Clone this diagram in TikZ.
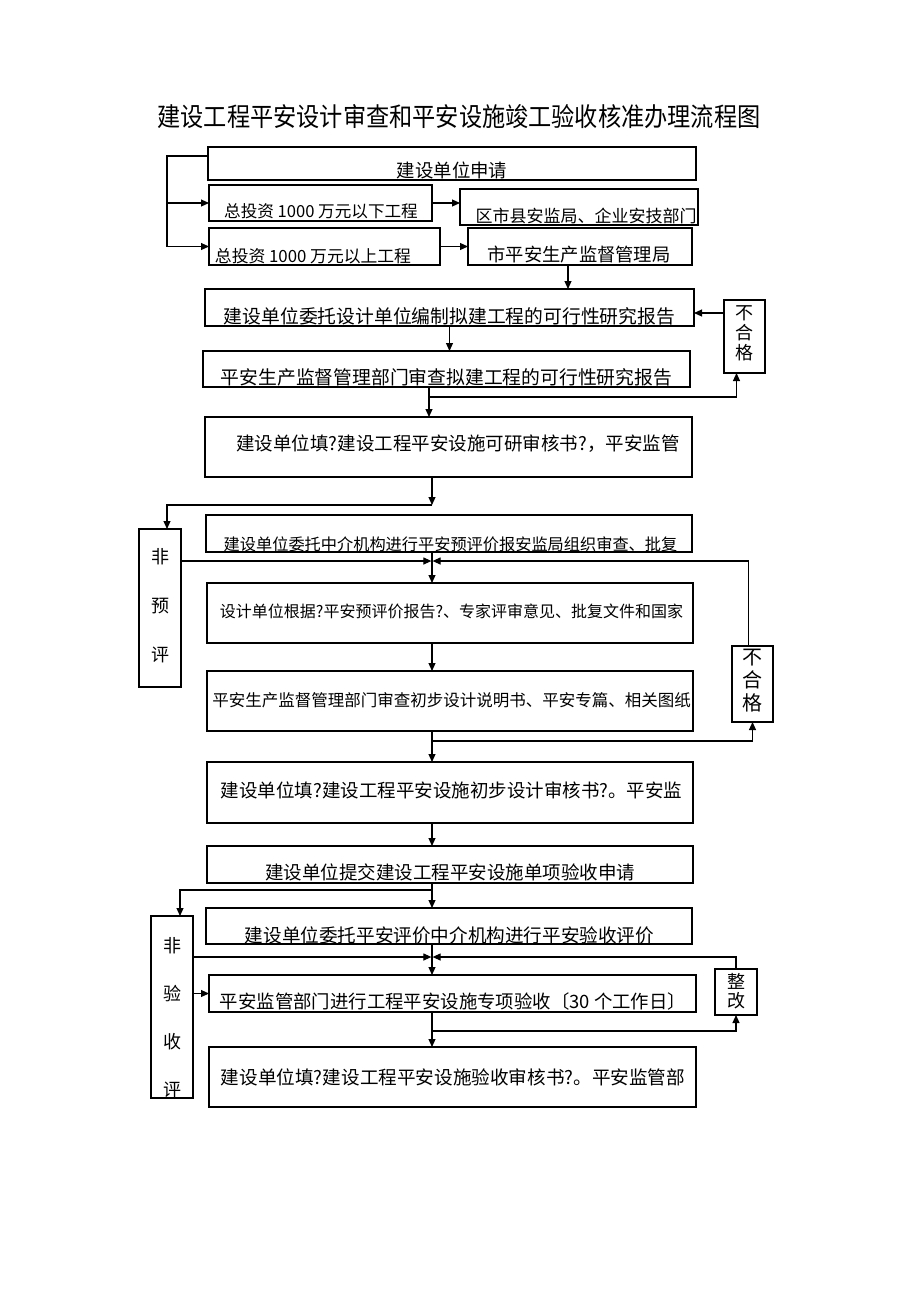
\documentclass[tikz,border=0pt]{standalone}
\usepackage{fontspec}
\setmainfont{Noto Sans CJK SC}
\usetikzlibrary{arrows.meta}
\newcommand\mkbox[5]{\node[box, minimum width={(#4)-(#2)}, minimum height={(#5)-(#3)}] (#1) at ({((#2)+(#4))/2},{((#3)+(#5))/2}) {};}
\newcommand\fs[1]{\fontsize{#1}{#1}\selectfont}
\begin{document}
\begin{tikzpicture}[x=1pt,y=-1pt,
  box/.style={draw, line width=1.1pt, inner sep=0pt, outer sep=0pt},
  arr/.style={-{Triangle[length=8pt,width=7pt]}, line width=1.1pt},
  txt/.style={inner sep=0pt, anchor=center}]
\useasboundingbox (0,0) rectangle (920,1302);
\fill[white] (0,0) rectangle (920,1302);

\node[txt, font=\fs{23.2}] (title) at (459,117) {\scalebox{1}[1.12]{建设工程平安设计审查和平安设施竣工验收核准办理流程图}};

% boxes
\mkbox{A}{208}{147}{696}{180}
\mkbox{B1}{209}{185}{432}{221}
\mkbox{B2}{460}{189}{698}{225}
\mkbox{C1}{209}{228}{440}{265}
\mkbox{C2}{468}{228}{692}{265}
\mkbox{D}{205}{289}{694}{326}
\mkbox{NG1}{724}{300}{765}{373}
\mkbox{E}{203}{351}{690}{387}
\mkbox{F}{205}{417}{692}{477}
\mkbox{NPY}{139}{529}{181}{687}
\mkbox{G}{206}{515}{692}{552}
\mkbox{H}{207}{583}{693}{643}
\mkbox{I}{207}{671}{693}{731}
\mkbox{NG2}{732}{646}{773}{722}
\mkbox{J}{207}{762}{693}{823}
\mkbox{K}{207}{846}{693}{883}
\mkbox{NYS}{151}{916}{193}{1098}
\mkbox{L}{206}{908}{692}{944}
\mkbox{M}{209}{975}{696}{1012}
\mkbox{ZG}{715}{969}{757}{1015}
\mkbox{N}{209}{1047}{696}{1107}

% texts
\node[txt, font=\fs{18.4}] (tA) at (452,170) {建设单位申请};
\node[txt, font=\fs{16.6}] (tB1) at (321,211) {总投资 1000 万元以下工程};
\node[txt, font=\fs{17}] (tB2) at (586,216) {区市县安监局、企业安技部门};
\node[txt, font=\fs{16.8}] (tC1) at (313,256) {总投资 1000 万元以上工程};
\node[txt, font=\fs{18.3}] (tC2) at (579,255) {市平安生产监督管理局};
\node[txt, font=\fs{18.8}] (tD) at (449.5,316) {建设单位委托设计单位编制拟建工程的可行性研究报告};
\node[txt, font=\fs{18.8}] (tE) at (446.5,377) {平安生产监督管理部门审查拟建工程的可行性研究报告};
\node[txt, font=\fs{18.5}] (tF) at (458,444) {建设单位填?建设工程平安设施可研审核书?，平安监管};
\node[txt, font=\fs{16.2}] (tG) at (450.5,544) {建设单位委托中介机构进行平安预评价报安监局组织审查、批复};
\node[txt, font=\fs{16}] (tH) at (451.5,611) {设计单位根据?平安预评价报告?、专家评审意见、批复文件和国家};
\node[txt, font=\fs{16.5}] (tI) at (451.5,700) {平安生产监督管理部门审查初步设计说明书、平安专篇、相关图纸};
\node[txt, font=\fs{18.5}] (tJ) at (451.5,790) {建设单位填?建设工程平安设施初步设计审核书?。平安监};
\node[txt, font=\fs{18.5}] (tK) at (450,872) {建设单位提交建设工程平安设施单项验收申请};
\node[txt, font=\fs{18.6}] (tL) at (449.5,935) {建设单位委托平安评价中介机构进行平安验收评价};
\node[txt, font=\fs{18.4}] (tM) at (453,1001) {平安监管部门进行工程平安设施专项验收〔30 个工作日〕};
\node[txt, font=\fs{18.6}] (tN) at (453,1077) {建设单位填?建设工程平安设施验收审核书?。平安监管部};

\node[txt, font=\fontsize{18}{20}\selectfont, align=center] (tNG1) at (744.5,333) {不\\合\\格};
\node[txt, font=\fontsize{20}{23}\selectfont, align=center] (tNG2) at (752.5,681) {不\\合\\格};
\node[txt, font=\fontsize{18}{49}\selectfont, align=center] (tNPY) at (160,606) {非\\预\\评};
\node[txt, font=\fontsize{18}{48}\selectfont, align=center] (tNYS) at (172,1018) {非\\验\\收\\评};
\node[txt, font=\fontsize{18}{19}\selectfont, align=center] (tZG) at (736,991) {整\\改};

% connectors
\coordinate (br) at (167,156);
\draw[arr] (A.west |- br) -- (br) |- (C1.west);
\draw[arr] (br |- B1.west) -- (B1.west);
\draw[arr] (B1.east) -- (B1.east -| B2.west);
\draw[arr] (C1.east) -- (C2.west);
\draw[arr] ([xshift=-12pt]C2.south) -- ([xshift=-12pt]C2.south |- D.north);
\draw[arr] (D.south) -- (D.south |- E.north);
\draw[arr] ([yshift=23.5pt]NG1.west) -- ([yshift=23.5pt]NG1.west -| D.east);

\coordinate (e1) at ([xshift=-17.5pt]E.south);
\draw[arr] (e1) -- (e1 |- F.north);
\draw[arr] (e1 |- 0,397) -| ([xshift=-8pt]NG1.south);

\coordinate (f1) at ([xshift=-16.5pt]F.south);
\coordinate (j1) at (f1 |- 0,505);
\draw[arr] (f1) -- (j1);
\draw[arr] (j1) -| ([xshift=7pt]NPY.north);

\coordinate (g1) at ([xshift=-17pt]G.south);
\draw[arr] (g1) -- (g1 |- H.north);
\coordinate (j2) at (g1 |- 0,561);
\draw[arr] (NPY.east |- j2) -- ([xshift=-0.6pt]j2);
\draw[arr] ([xshift=-4pt]NG2.north) |- ([xshift=0.6pt]j2);

\coordinate (h1) at ([xshift=-18pt]H.south);
\draw[arr] (h1) -- (h1 |- I.north);

\coordinate (i1) at ([xshift=-18pt]I.south);
\draw[arr] (i1) -- (i1 |- J.north);
\draw[arr] (i1 |- 0,741) -| (NG2.south);

\coordinate (jj1) at ([xshift=-18pt]J.south);
\draw[arr] (jj1) -- (jj1 |- K.north);

\coordinate (k1) at ([xshift=-18pt]K.south);
\draw[arr] (k1) -- (k1 |- L.north);
\draw[arr] (k1 |- 0,890) -| ([xshift=8pt]NYS.north);

\coordinate (l1) at ([xshift=-17pt]L.south);
\draw[arr] (l1) -- (l1 |- M.north);
\coordinate (j3) at (l1 |- 0,957);
\draw[arr] (NYS.east |- j3) -- ([xshift=-0.6pt]j3);
\draw[arr] (ZG.north) |- ([xshift=0.6pt]j3);

\draw[arr] (NYS.east |- M.west) -- (M.west);

\coordinate (m1) at ([xshift=-20.5pt]M.south);
\draw[arr] (m1) -- (m1 |- N.north);
\draw[arr] (m1 |- 0,1031) -| (ZG.south);
\end{tikzpicture}
\end{document}
